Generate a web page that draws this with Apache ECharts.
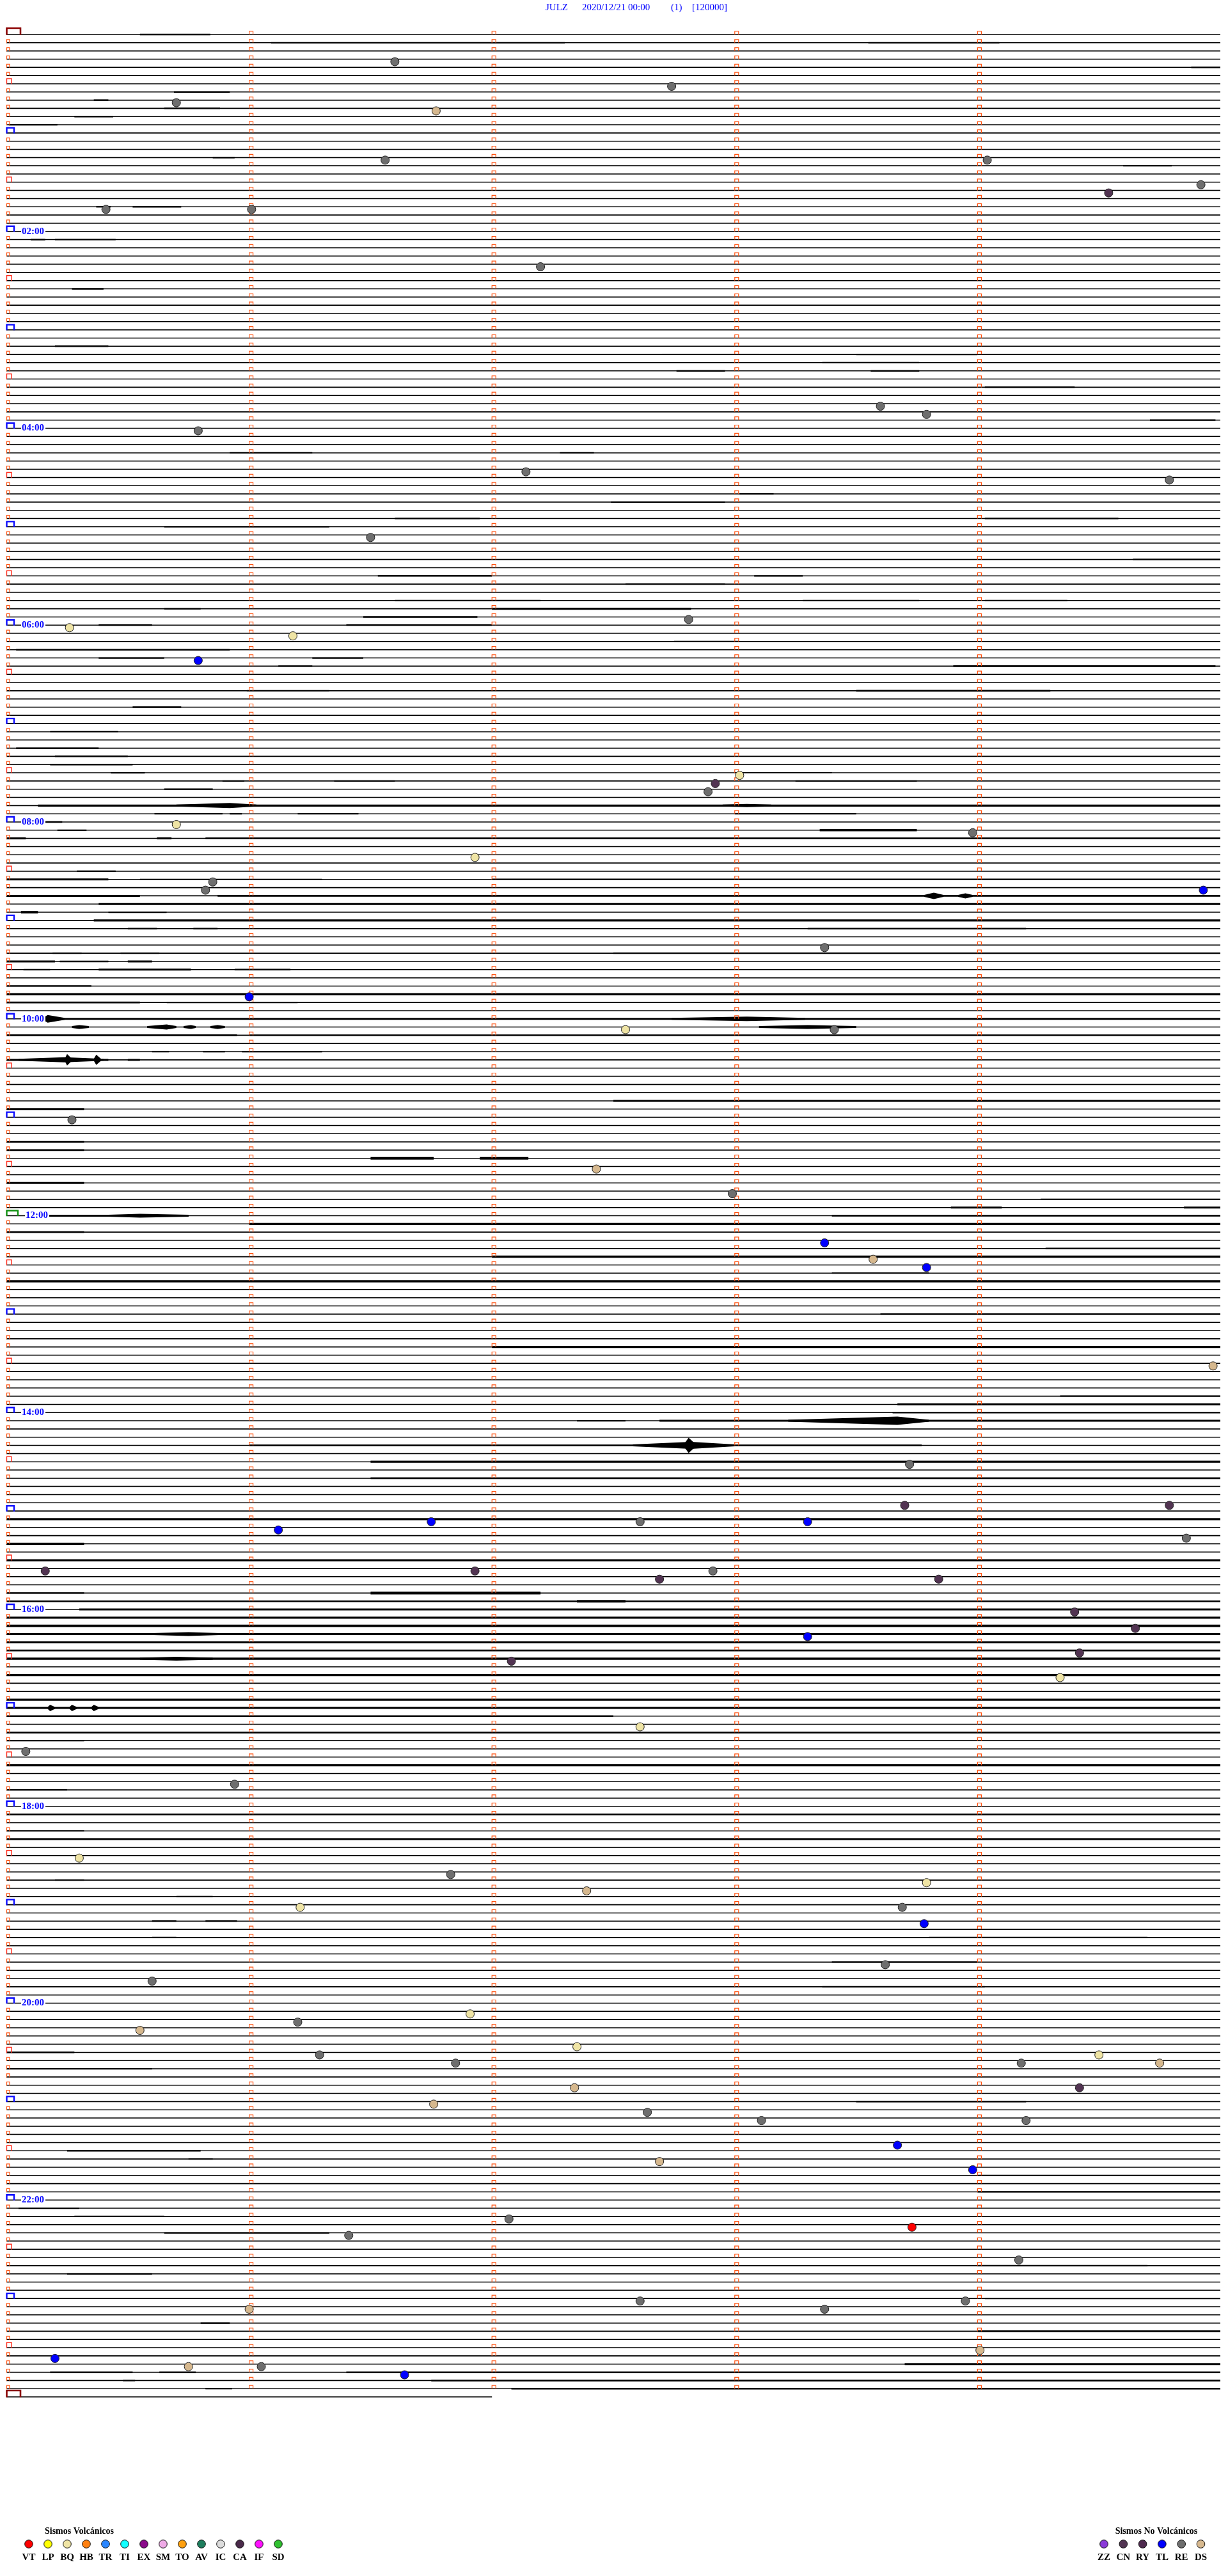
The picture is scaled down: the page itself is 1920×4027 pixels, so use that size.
<!DOCTYPE html>
<html><head><meta charset="utf-8">
<script src="https://cdn.jsdelivr.net/npm/echarts@6/dist/echarts.min.js"></script>
<style>html,body{margin:0;padding:0;background:#fff;}#c{width:1920px;height:4027px;}</style>
</head><body><div id="c"></div>
<script>
// ---------------- DATA ----------------
const lineCount = 288;          // 5-minute trace lines (00:00 .. 23:55), plus a final partial line
const minutesPerLine = 5;
const lastLineMinutes = 2;
const hourLabels = ['02:00','04:00','06:00','08:00','10:00','12:00','14:00','16:00','18:00','20:00','22:00'];
const hourLabelLines = [24,48,72,96,120,144,168,192,216,240,264];
const titleParts = ['JULZ','2020/12/21 00:00','(1)','[120000]'];

// events: [line, minute within line, type]
const events = [
 [3,1.60,'RE'],[8,0.70,'RE'],[6,2.74,'RE'],[9,1.77,'DS'],[15,1.56,'RE'],[15,4.04,'RE'],[19,4.54,'CN'],[18,4.92,'RE'],
 [21,0.41,'RE'],[21,1.01,'RE'],[28,2.20,'RE'],[45,3.60,'RE'],[46,3.79,'RE'],[48,0.79,'RE'],[53,2.14,'RE'],[54,4.79,'RE'],
 [61,1.50,'RE'],[72,0.26,'BQ'],[73,1.18,'BQ'],[71,2.81,'RE'],[76,0.79,'TL'],[91,2.92,'CN'],[92,2.89,'RE'],[90,3.02,'BQ'],
 [96,0.70,'BQ'],[97,3.98,'RE'],[100,1.93,'BQ'],[103,0.85,'RE'],[104,0.82,'RE'],[104,4.93,'TL'],[111,3.37,'RE'],[117,1.00,'TL'],
 [121,2.55,'BQ'],[121,3.41,'RE'],[132,0.27,'RE'],[138,2.43,'DS'],[141,2.99,'RE'],[147,3.37,'TL'],[149,3.57,'DS'],[150,3.79,'TL'],
 [162,4.97,'DS'],[174,3.72,'RE'],[179,3.70,'CN'],[179,4.79,'CN'],[183,4.86,'RE'],[182,1.12,'TL'],[181,1.75,'TL'],[181,2.61,'RE'],
 [181,3.30,'TL'],[187,0.16,'CN'],[187,1.93,'CN'],[187,2.91,'RE'],[188,2.69,'CN'],[188,3.84,'CN'],[192,4.40,'CN'],[194,4.65,'CN'],
 [195,3.30,'TL'],[197,4.42,'CN'],[198,2.08,'CN'],[200,4.34,'BQ'],[206,2.61,'BQ'],[209,0.08,'RE'],[213,0.94,'RE'],[222,0.30,'BQ'],
 [224,1.83,'RE'],[226,2.39,'DS'],[225,3.79,'BQ'],[228,1.21,'BQ'],[228,3.69,'RE'],[230,3.78,'TL'],[235,3.62,'RE'],[237,0.60,'RE'],
 [241,1.91,'BQ'],[243,0.55,'DS'],[242,1.20,'RE'],[245,2.35,'BQ'],[246,1.29,'RE'],[247,1.85,'RE'],[246,4.50,'BQ'],[247,4.75,'DS'],
 [247,4.18,'RE'],[250,4.42,'CN'],[250,2.34,'DS'],[252,1.76,'DS'],[253,2.64,'RE'],[254,3.11,'RE'],[254,4.20,'RE'],[257,3.67,'TL'],
 [259,2.69,'DS'],[260,3.98,'TL'],[267,3.73,'VT'],[266,2.07,'RE'],[268,1.41,'RE'],[271,4.17,'RE'],[276,2.61,'RE'],[277,3.37,'RE'],
 [276,3.95,'RE'],[277,1.00,'DS'],[282,4.01,'DS'],[283,0.20,'TL'],[284,0.75,'DS'],[284,1.05,'RE'],[285,1.64,'TL']
];

// noisy stretches of trace: [line, startMinute, endMinute, thicknessPx]
const noiseSegs = [
 [0,0.55,0.84,2],[1,1.09,2.30,2],[1,3.55,4.09,2],[4,4.88,5.0,2],[7,0.69,0.92,2],[8,0.36,0.42,2],[9,0.65,0.88,2],[10,0.28,0.44,2],
 [11,0.01,0.21,2],[15,0.85,0.94,2],[16,4.6,4.8,2],[21,0.37,0.43,2],[21,0.52,0.72,2],[25,0.10,0.16,2],[25,0.2,0.45,1.8],
 [31,0.27,0.4,2],[38,0.2,0.42,2],[39,2.7,3.1,1.8],[39,3.5,4.0,2],[40,3.36,3.76,2],[41,2.76,2.96,2],[41,3.56,3.76,2],[43,4.03,4.4,2],
 [47,4.71,4.98,2],[51,0.92,1.26,2],[51,2.28,2.42,2],[56,3.02,3.16,2],[57,2.49,2.96,2],[59,1.6,1.95,2],[59,4.03,4.58,2],[60,0.65,1.33,1.8],
 [64,4.64,5.0,2],[66,1.53,2.0,2.2],[66,3.08,3.28,2],[67,2.55,2.96,2],[69,1.6,2.2,2],[69,3.28,3.76,2],[69,4.03,4.37,2],
 [70,0.65,0.8,2],[70,2.0,2.82,2.6],[71,1.47,1.94,2.2],[72,0.38,0.6,2],[72,1.4,2.0,2.2],[74,2.75,3.02,2],[75,0.04,0.92,2.2],
 [76,0.38,0.65,2],[76,1.26,1.47,2],[77,1.12,1.26,2],[77,3.9,4.98,2.2],[80,0.99,1.33,2],[80,3.5,4.3,2.2],[82,0.52,0.72,2],
 [85,0.18,0.46,2],[87,0.04,0.38,2],[88,0.2,0.5,2],[89,0.18,0.52,2],
 [90,0.43,0.57,2],[90,3.0,3.4,1.8],[91,0.89,0.98,2],[91,1.35,1.6,2],[91,3.25,3.75,2],[92,0.65,0.85,2],
 [94,0.13,5.0,2.5],[95,0.61,0.89,2],[95,0.92,0.97,2],[95,1.20,1.45,2],[95,3.0,3.5,2],[96,0.15,0.23,2.2],[97,0.21,0.33,2],[97,3.35,3.75,2.8],
 [98,0.0,0.08,2.5],[98,0.62,0.68,2.5],[98,0.82,5.0,2.4],[102,0.29,0.45,2],[103,0.0,0.42,2.5],[103,0.55,1.3,1.8],[103,2.0,5.0,2],
 [105,0.0,0.55,2.5],[105,0.87,5.0,2.4],[106,0.38,5.0,2.5],[107,0.06,0.13,3],[107,0.42,0.66,2],[108,0.36,5.0,2.6],
 [109,0.5,0.62,2],[109,0.77,0.87,2],[109,3.3,4.2,2],[112,0.19,0.31,1.8],[112,0.47,0.63,1.8],[112,2.5,5.0,2],
 [113,0.0,0.2,2.6],[113,0.22,0.42,2.2],[113,0.5,0.6,2.5],[114,0.07,0.18,2],[114,0.38,0.76,2.5],[114,0.94,1.17,2.2],
 [116,0.0,0.35,2],[117,0.0,5.0,2.8],[118,0.0,0.55,2.4],[118,0.66,1.2,2],[120,0.2,5.0,2.6],[122,0.0,0.95,2.2],[122,1.0,5.0,2],
 [124,0.6,0.67,2],[124,0.81,0.9,2],[124,0.97,1.3,2],[125,0.0,0.42,2.5],[125,0.5,0.55,2.5],[130,2.5,5.0,2.4],[131,0.0,0.32,2.4],
 [135,0.0,0.32,2.4],[136,0.0,0.32,2.2],[137,1.5,1.76,3],[137,1.95,2.15,3],[140,0.0,0.32,2.4],[142,4.26,5.0,1.8],
 [143,3.89,4.10,2.4],[143,4.85,5.0,2.4],[144,0.17,0.75,2.6],[144,3.4,5.0,2.2],[145,1.0,5.0,2.6],[146,0.0,0.32,2.4],[148,4.28,5.0,2.2],
 [149,2.0,5.0,2.8],[151,3.4,3.8,1.8],[152,0.0,5.0,2.8],[156,3.6,5.0,2],[160,2.0,5.0,2.6],[166,4.34,5.0,1.8],[167,3.67,5.0,2.6],
 [168,3.65,5.0,2],[169,2.35,2.55,2],[169,2.69,5.0,2.4],[172,1.0,3.77,2.2],[174,1.5,5.0,2.6],[176,1.5,5.0,2.4],[181,0.0,5.0,2.6],
 [184,0.0,0.32,2.6],[186,0.0,5.0,2.6],[190,0.0,0.32,2],[190,1.5,2.2,3.2],[191,0.0,5.0,2.2],[191,2.35,2.55,3.2],[192,0.3,5.0,2.6],
 [193,0.0,5.0,2.6],[194,0.0,5.0,3],[195,0.0,5.0,2.4],[196,0.0,5.0,2.6],[197,0.0,5.0,2.4],[198,0.0,5.0,2.8],[200,0.0,5.0,2.6],
 [203,0.0,5.0,2.6],[204,0.0,5.0,2.6],[205,0.0,2.5,2.2],[207,0.0,5.0,2.4],[208,0.0,0.32,2],[211,0.0,5.0,2.6],[214,0.0,0.25,2],
 [217,0.0,5.0,2.2],[219,0.0,0.32,1.8],[220,0.0,5.0,2.4],[225,0.2,0.32,1.8],[227,0.7,0.85,2],[230,0.6,0.7,2],[230,0.82,0.95,2],
 [232,0.6,0.7,2],[232,3.8,4.7,2],[235,3.4,4.0,2],[238,3.36,4.03,2],[246,0.0,0.28,2.2],[248,0.0,0.6,2],[252,3.5,4.2,2],
 [258,0.25,0.8,2],[259,0.75,0.85,1.8],[261,4.0,5.0,2],[263,4.0,5.0,2],[265,0.05,0.3,2],[266,0.28,0.65,2],[268,0.65,1.33,2],
 [272,4.0,4.7,2],[273,0.25,0.6,2],[276,4.03,5.0,2],[279,0.8,0.92,2],[280,4.0,5.0,2.2],[284,3.7,5.0,2.4],
 [285,0.18,0.52,2],[285,0.63,0.78,2],[285,1.40,5.0,2],[286,0.48,0.53,2],[286,1.75,5.0,2.4],[287,0.82,0.93,2],[287,2.08,5.0,2.2]
];
// wave bursts (spindles): [line, startMinute, peakMinute, endMinute, halfHeightPx]
const bursts = [
 [94,0.70,0.92,1.03,4],[94,2.95,3.05,3.15,2.5],[105,3.78,3.82,3.86,5],[105,3.92,3.95,3.98,4],
 [120,0.15,0.17,0.24,6],[120,2.74,3.05,3.29,3.5],
 [121,0.27,0.30,0.34,3],[121,0.58,0.66,0.70,4],[121,0.73,0.76,0.78,3],[121,0.84,0.87,0.90,3],[121,3.1,3.3,3.5,3],
 [125,0.05,0.24,0.40,4],[125,0.24,0.25,0.27,9],[125,0.36,0.37,0.39,8],
 [144,0.42,0.55,0.75,3],[169,3.22,3.67,3.80,6.5],[172,2.58,2.82,3.00,5.5],[172,2.79,2.81,2.84,12],
 [195,0.60,0.75,0.88,3],[198,0.55,0.70,0.85,3],[204,0.17,0.18,0.20,5],[204,0.26,0.27,0.29,5],[204,0.35,0.36,0.38,5]
];

// legend
const volcCodes  = ['VT','LP','BQ','HB','TR','TI','EX','SM','TO','AV','IC','CA','IF','SD'];
const volcColors = ['#ff0000','#ffff00','#efe4a4','#ff8010','#2a86ff','#10ffff','#8a0a8a','#eeaae6','#ffa010','#1e7e5e','#dcdcdc','#4a2a4a','#ff10ff','#30c030'];
const nonVolcCodes  = ['ZZ','CN','RY','TL','RE','DS'];
const nonVolcColors = ['#8a3ad8','#523452','#4e2a4e','#0000ff','#6e6e6e','#d6b88e'];

// ---------------- CHART ----------------
const colorOf = {};
volcCodes.forEach((c,k)=>colorOf[c]=volcColors[k]);
nonVolcCodes.forEach((c,k)=>colorOf[c]=nonVolcColors[k]);

const lineIdx = [];
for (let i = 0; i <= lineCount; i++) lineIdx.push([i]);

const chart = echarts.init(document.getElementById('c'), null, {renderer:'canvas'});

function bracketStyle(i){
  if (i === 0 || i === lineCount) return {c:'#8b0000', w:22, h:10, lw:2.6};
  if (i === 144) return {c:'#109010', w:18, h:8, lw:2.4};
  if (i % 12 === 0) return {c:'#0a0aff', w:12, h:8, lw:2.4};
  if (i % 6 === 0) return {c:'#ff2a1a', w:8, h:8, lw:1.4};
  return {c:'#ff5210', w:5, h:5, lw:1.2};
}

const option = {
  animation:false,
  backgroundColor:'#ffffff',
  grid:{left:10, top:54, width:1898, height:3693},
  xAxis:{type:'value', min:0, max:minutesPerLine, show:false},
  yAxis:{type:'value', min:0, max:lineCount, inverse:true, show:false},
  series:[
    { // baselines
      type:'custom', clip:false, z:1, data:lineIdx,
      renderItem:(p, api)=>{
        const i = api.value(0);
        const len = i === lineCount ? lastLineMinutes : minutesPerLine;
        const a = api.coord([0,i]), b = api.coord([len,i]);
        return {type:'line', shape:{x1:a[0], y1:a[1], x2:b[0], y2:b[1]}, style:{stroke:'#000', lineWidth:1.6}};
      }
    },
    { // noisy stretches
      type:'custom', clip:false, z:2, data:noiseSegs,
      renderItem:(p, api)=>{
        const i = api.value(0);
        const a = api.coord([api.value(1), i]), b = api.coord([api.value(2), i]);
        return {type:'line', shape:{x1:a[0], y1:a[1], x2:b[0], y2:b[1]},
          style:{stroke:'#000', lineWidth:api.value(3) * 1.5 - 0.7}};
      }
    },
    { // bursts
      type:'custom', clip:false, z:3, data:bursts,
      renderItem:(p, api)=>{
        const i = api.value(0);
        const a = api.coord([api.value(1), i]), pk = api.coord([api.value(2), i]), b = api.coord([api.value(3), i]);
        const h = api.value(4);
        return {type:'polygon', shape:{points:[[a[0],a[1]-1.5],[pk[0],pk[1]-h],[b[0],b[1]-1.5],[b[0],b[1]+1.5],[pk[0],pk[1]+h],[a[0],a[1]+1.5]]}, style:{fill:'#000'}};
      }
    },
    { // brackets & minute ticks
      type:'custom', clip:false, z:4, data:lineIdx,
      renderItem:(p, api)=>{
        const i = api.value(0);
        const s = bracketStyle(i);
        const o = api.coord([0,i]);
        const ch = [{type:'polyline', shape:{points:[[o[0]+0.5,o[1]+0.5],[o[0]+0.5,o[1]-s.h],[o[0]+s.w,o[1]-s.h],[o[0]+s.w,o[1]+0.5]]},
          style:{stroke:s.c, lineWidth:s.lw, fill:null}}];
        if (i < lineCount) {
          for (let m = 1; m < minutesPerLine; m++) {
            const q = api.coord([m,i]);
            ch.push({type:'polyline', shape:{points:[[q[0],q[1]],[q[0],q[1]-5],[q[0]+6,q[1]-5],[q[0]+6,q[1]]]},
              style:{stroke:'#ff5210', lineWidth:1.2, fill:null}});
          }
        }
        return {type:'group', children:ch};
      }
    },
    { // hour labels
      type:'custom', clip:false, z:5, data:hourLabelLines.map((l,k)=>[l,k]),
      renderItem:(p, api)=>{
        const i = api.value(0), k = api.value(1);
        const o = api.coord([0,i]);
        const s = bracketStyle(i);
        return {type:'text', x:o[0]+s.w+11, y:o[1],
          style:{text:hourLabels[k], font:'bold 15px "Liberation Serif", serif', fill:'#0a0aff',
            verticalAlign:'middle', align:'left', backgroundColor:'#fff', padding:[1,2,1,1]}};
      }
    },
    { // events
      type:'scatter', z:6, symbol:'circle', symbolSize:13, symbolOffset:[0,4],
      data:events.map(e=>({value:[e[1],e[0]], itemStyle:{color:colorOf[e[2]]}})),
      itemStyle:{borderColor:'#222', borderWidth:1, opacity:1}
    }
  ],
  graphic:[]
};

// title
const titleX = [853, 910, 1049, 1082];
titleParts.forEach((t,k)=>option.graphic.push({type:'text', left:titleX[k], top:5,
  style:{text:t, font:'15px "Liberation Serif", serif', fill:'#0000ff'}}));

// legends
function legend(title, cx, x0, dx, codes, colors){
  option.graphic.push({type:'text', x:cx, y:3957, style:{text:title, font:'bold 14px "Liberation Serif", serif', fill:'#000', align:'center', verticalAlign:'middle'}});
  codes.forEach((c,k)=>{
    option.graphic.push({type:'circle', shape:{cx:x0+dx*k, cy:3977, r:6.3}, style:{fill:colors[k], stroke:'#111', lineWidth:1}});
    option.graphic.push({type:'text', x:x0+dx*k, y:3998, style:{text:c, font:'bold 15px "Liberation Serif", serif', fill:'#000', align:'center', verticalAlign:'middle'}});
  });
}
legend('Sismos Volcánicos', 124, 45, 30, volcCodes, volcColors);
legend('Sismos No Volcánicos', 1808, 1726, 30.3, nonVolcCodes, nonVolcColors);

chart.setOption(option);
</script>
</body></html>
